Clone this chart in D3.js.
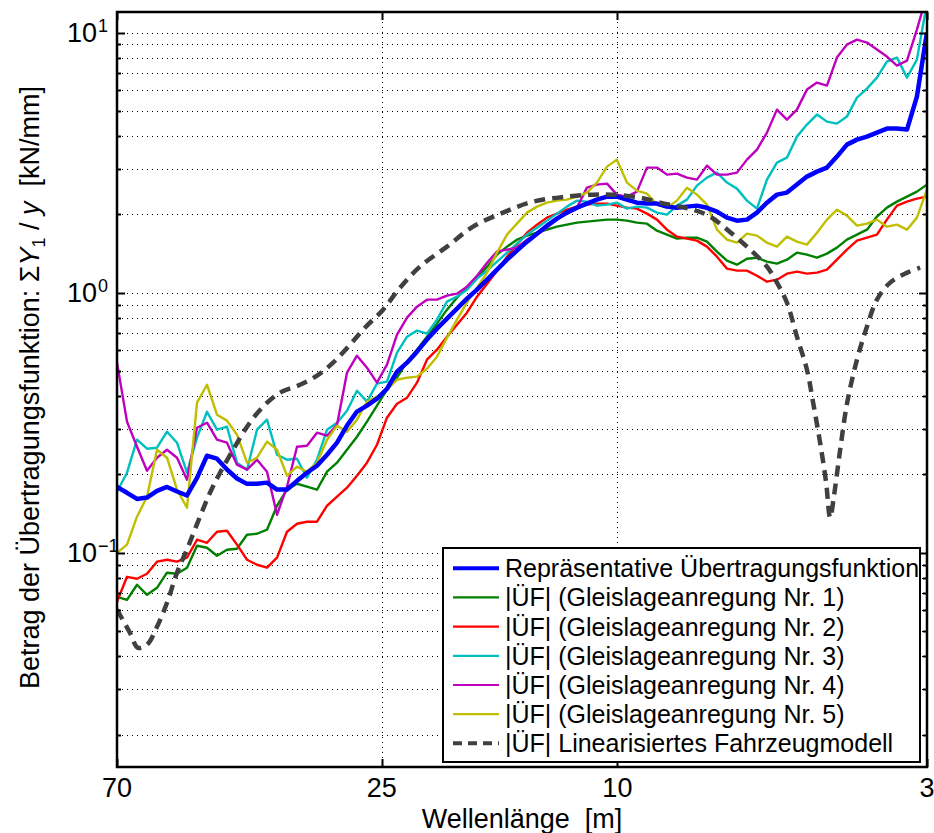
<!DOCTYPE html>
<html><head><meta charset="utf-8">
<script src="https://cdn.jsdelivr.net/npm/d3@7"></script>
<style>
body{margin:0;background:#fff}
text{font-family:"Liberation Sans",Arial,Helvetica,sans-serif;fill:#000}
</style>
</head><body>
<svg id="chart" width="934" height="833"></svg>
<script>
// ---------- data ----------
const wavelength = [70, 67.33, 64.76, 62.29, 59.92, 57.63, 55.43, 53.32, 51.28, 49.33,
  47.45, 45.64, 43.90, 42.22, 40.61, 39.06, 37.57, 36.14, 34.76, 33.44,
  32.16, 30.93, 29.75, 28.62, 27.53, 26.48, 25.47, 24.50, 23.56, 22.66,
  21.80, 20.97, 20.17, 19.40, 18.66, 17.95, 17.26, 16.60, 15.97, 15.36,
  14.78, 14.21, 13.67, 13.15, 12.65, 12.17, 11.70, 11.26, 10.83, 10.41,
  10.02, 9.635, 9.268, 8.914, 8.574, 8.247, 7.933, 7.630, 7.339, 7.059,
  6.790, 6.531, 6.282, 6.042, 5.812, 5.590, 5.377, 5.172, 4.975, 4.785,
  4.602, 4.427, 4.258, 4.096, 3.939, 3.789, 3.645, 3.506, 3.372, 3.243,
  3.120, 3.001];

const representative = [0.179, 0.170, 0.161, 0.163, 0.173, 0.179, 0.172, 0.166, 0.194, 0.236,
  0.230, 0.209, 0.193, 0.184, 0.184, 0.186, 0.175, 0.175, 0.189, 0.203,
  0.216, 0.238, 0.265, 0.308, 0.349, 0.368, 0.391, 0.427, 0.497, 0.538,
  0.593, 0.660, 0.727, 0.794, 0.868, 0.948, 1.027, 1.122, 1.226, 1.339,
  1.450, 1.571, 1.686, 1.810, 1.925, 2.031, 2.123, 2.199, 2.279, 2.340,
  2.340, 2.280, 2.219, 2.200, 2.200, 2.142, 2.120, 2.142, 2.161, 2.120,
  2.049, 1.943, 1.892, 1.909, 2.031, 2.219, 2.382, 2.425, 2.603, 2.794,
  2.920, 3.026, 3.336, 3.709, 3.877, 3.981, 4.125, 4.274, 4.274, 4.236,
  5.673, 10.0];

const gleis1 = [0.0677, 0.0659, 0.0753, 0.0689, 0.0733, 0.0838, 0.0830, 0.0876, 0.1064, 0.1045,
  0.0974, 0.1027, 0.1036, 0.1173, 0.1183, 0.1226, 0.1516, 0.1747, 0.1842, 0.1794,
  0.1747, 0.2049, 0.2220, 0.2489, 0.2793, 0.3191, 0.3675, 0.4235, 0.4710, 0.5427,
  0.6036, 0.6773, 0.7600, 0.8603, 0.9567, 1.045, 1.142, 1.259, 1.400, 1.503,
  1.599, 1.657, 1.701, 1.747, 1.794, 1.826, 1.859, 1.876, 1.892, 1.909,
  1.909, 1.892, 1.859, 1.842, 1.731, 1.672, 1.613, 1.627, 1.627, 1.571,
  1.438, 1.328, 1.281, 1.351, 1.363, 1.316, 1.293, 1.339, 1.425, 1.400,
  1.363, 1.413, 1.490, 1.599, 1.672, 1.747, 1.961, 2.123, 2.239, 2.340,
  2.446, 2.603];

const gleis2 = [0.0648, 0.0808, 0.0794, 0.0830, 0.0924, 0.0940, 0.0924, 0.0957, 0.1122, 0.1092,
  0.1204, 0.1215, 0.1074, 0.0940, 0.0899, 0.0876, 0.0957, 0.1204, 0.1293, 0.1316,
  0.1316, 0.1516, 0.1642, 0.1778, 0.1978, 0.2220, 0.2602, 0.3305, 0.3741, 0.3946,
  0.4506, 0.5525, 0.6036, 0.6773, 0.7533, 0.8376, 0.9652, 1.083, 1.215, 1.375,
  1.530, 1.701, 1.826, 1.943, 2.013, 2.085, 2.142, 2.181, 2.199, 2.199,
  2.161, 2.123, 2.104, 2.013, 1.909, 1.747, 1.642, 1.613, 1.585, 1.503,
  1.375, 1.237, 1.215, 1.215, 1.162, 1.102, 1.122, 1.183, 1.204, 1.183,
  1.194, 1.226, 1.339, 1.464, 1.585, 1.627, 1.672, 1.909, 2.161, 2.239,
  2.299, 2.340];

const gleis3 = [0.1716, 0.2031, 0.2720, 0.2512, 0.2534, 0.2920, 0.2649, 0.2031, 0.2769, 0.3485,
  0.2972, 0.3052, 0.2220, 0.2086, 0.2972, 0.3248, 0.2381, 0.2279, 0.2298, 0.1943,
  0.2279, 0.2972, 0.3162, 0.3517, 0.4198, 0.3809, 0.4467, 0.4547, 0.5878, 0.6773,
  0.7144, 0.6957, 0.7873, 0.9235, 0.9652, 1.027, 1.132, 1.215, 1.316, 1.425,
  1.543, 1.672, 1.778, 1.892, 2.013, 2.142, 2.259, 2.239, 2.161, 2.181,
  2.219, 2.104, 2.142, 2.123, 2.031, 1.995, 2.161, 2.279, 2.580, 2.769,
  2.894, 2.650, 2.512, 2.259, 2.104, 2.721, 3.162, 3.305, 3.981, 4.428,
  4.838, 4.547, 4.467, 4.753, 5.623, 6.091, 6.714, 7.735, 8.014, 6.714,
  7.876, 13.0];

const gleis4 = [0.5379, 0.3191, 0.2557, 0.2067, 0.2319, 0.2489, 0.2319, 0.1909, 0.3025, 0.3162,
  0.2720, 0.2649, 0.2181, 0.2086, 0.2279, 0.2049, 0.1400, 0.1794, 0.2557, 0.2579,
  0.2894, 0.2818, 0.3106, 0.4923, 0.5725, 0.5146, 0.4506, 0.5285, 0.6895, 0.8014,
  0.8834, 0.9399, 0.9399, 0.9738, 0.9912, 1.055, 1.162, 1.304, 1.438, 1.464,
  1.490, 1.599, 1.672, 1.778, 1.909, 2.031, 2.123, 2.534, 2.603, 2.625,
  2.382, 2.340, 2.446, 3.026, 3.026, 2.844, 2.869, 2.769, 2.721, 3.080,
  2.844, 2.844, 2.894, 3.247, 3.548, 4.125, 5.056, 4.627, 5.056, 6.037,
  6.423, 6.254, 8.014, 8.991, 9.399, 9.152, 8.603, 8.086, 7.467, 7.805,
  10.27, 14.0];

const gleis5 = [0.1000, 0.1074, 0.1376, 0.1642, 0.2489, 0.2319, 0.1747, 0.1489, 0.3776, 0.4425,
  0.3395, 0.3220, 0.2843, 0.2220, 0.2319, 0.2673, 0.2489, 0.1978, 0.2142, 0.2049,
  0.2220, 0.2720, 0.3080, 0.2920, 0.3248, 0.3809, 0.3981, 0.4235, 0.4627, 0.4710,
  0.4753, 0.5101, 0.5675, 0.6713, 0.7873, 0.9153, 1.045, 1.194, 1.425, 1.672,
  1.842, 2.031, 2.142, 2.219, 2.259, 2.279, 2.340, 2.425, 2.650, 3.052,
  3.247, 2.650, 2.468, 2.403, 2.181, 2.123, 2.259, 2.534, 2.382, 2.181,
  1.747, 1.599, 1.557, 1.686, 1.657, 1.557, 1.503, 1.642, 1.571, 1.530,
  1.701, 1.909, 2.085, 1.978, 1.810, 1.842, 1.909, 1.794, 1.826, 1.747,
  1.943, 2.490];

const modelWavelength = [70, 66.55, 64.51, 62.29, 59.92, 57.63, 55.43, 53.10, 50.69, 48.76,
  46.89, 44.56, 42.22, 39.68, 37.14, 34.36, 32.16, 30.21, 28.29, 26.69,
  24.87, 23.29, 21.55, 19.40, 17.53, 15.60, 13.88, 12.17, 10.99, 10.17,
  9.157, 8.471, 7.448, 6.973, 6.377, 5.967, 5.590, 5.377, 5.172, 4.975,
  4.785, 4.671, 4.546, 4.441, 4.372, 4.305, 4.205, 4.092, 3.939, 3.789,
  3.645, 3.462, 3.240, 3.081];
const modelValues = [0.0604, 0.0492, 0.0431, 0.0443, 0.0519, 0.0642, 0.0838, 0.1055, 0.1376, 0.1701,
  0.2031, 0.2489, 0.3052, 0.3642, 0.4124, 0.4425, 0.4796, 0.5379, 0.6310, 0.7333,
  0.8603, 1.045, 1.259, 1.503, 1.794, 2.031, 2.239, 2.340, 2.382, 2.382,
  2.319, 2.219, 2.085, 1.961, 1.672, 1.464, 1.259, 1.093, 0.9153, 0.6773,
  0.5057, 0.3776, 0.2649, 0.1859, 0.1364, 0.1671, 0.2489, 0.3776, 0.5525, 0.7400,
  0.9399, 1.093, 1.194, 1.248];

const xTickValues = [70, 25, 10, 3];
const xTickLabels = ["70", "25", "10", "3"];
const yMajorTicks = [0.1, 1, 10];
const yTickExponents = ["\u22121", "0", "1"];
const legendLabels = [
  "Repr\u00e4sentative \u00dcbertragungsfunktion",
  "|\u00dcF| (Gleislageanregung Nr. 1)",
  "|\u00dcF| (Gleislageanregung Nr. 2)",
  "|\u00dcF| (Gleislageanregung Nr. 3)",
  "|\u00dcF| (Gleislageanregung Nr. 4)",
  "|\u00dcF| (Gleislageanregung Nr. 5)",
  "|\u00dcF| Linearisiertes Fahrzeugmodell"
];

// ---------- styles ----------
const seriesStyles = [
  {color: "#0000ff", width: 4.5, dash: null},
  {color: "#008000", width: 2.4, dash: null},
  {color: "#ff0000", width: 2.4, dash: null},
  {color: "#00bfbf", width: 2.4, dash: null},
  {color: "#bf00bf", width: 2.4, dash: null},
  {color: "#bfbf00", width: 2.4, dash: null},
  {color: "#404040", width: 4.5, dash: "11,7"}
];

const margin = {left: 117, right: 927, top: 12, bottom: 767};
const AXFONT = 27;
const LEGFONT = 25;

const svg = d3.select("#chart");
const x = d3.scaleLog().domain([70, 3]).range([margin.left, margin.right]);
const y = d3.scaleLog().domain([0.015, 12]).range([margin.bottom, margin.top]);

// gridlines
const yGridValues = [];
[0.01, 0.1, 1, 10].forEach(d => { for (let k = 1; k <= 9; k++) { const v = +(k * d).toPrecision(3); if (v >= 0.015 && v <= 12) yGridValues.push(v); } });

const grid = svg.append("g").attr("stroke", "#000").attr("stroke-width", 1).attr("stroke-dasharray", "1,4");
grid.selectAll("line.h").data(yGridValues).join("line")
  .attr("x1", margin.left).attr("x2", margin.right)
  .attr("y1", d => Math.round(y(d)) + 0.5).attr("y2", d => Math.round(y(d)) + 0.5);
grid.selectAll("line.v").data([25, 10]).join("line")
  .attr("y1", margin.top).attr("y2", margin.bottom)
  .attr("x1", d => Math.round(x(d)) + 0.5).attr("x2", d => Math.round(x(d)) + 0.5);

// clip
svg.append("clipPath").attr("id", "clip").append("rect")
  .attr("x", margin.left).attr("y", margin.top)
  .attr("width", margin.right - margin.left).attr("height", margin.bottom - margin.top);

const line = d3.line().x(d => x(d[0])).y(d => y(d[1]));
const plot = svg.append("g").attr("clip-path", "url(#clip)").attr("fill", "none")
  .attr("stroke-linejoin", "round").attr("stroke-linecap", "butt");

const measured = [gleis1, gleis2, gleis3, gleis4, gleis5];
measured.forEach((vals, i) => {
  plot.append("path").datum(wavelength.map((w, j) => [w, vals[j]]))
    .attr("d", line).attr("stroke", seriesStyles[i + 1].color).attr("stroke-width", seriesStyles[i + 1].width);
});
plot.append("path").datum(wavelength.map((w, j) => [w, representative[j]]))
  .attr("d", line).attr("stroke", seriesStyles[0].color).attr("stroke-width", seriesStyles[0].width);
plot.append("path").datum(modelWavelength.map((w, j) => [w, modelValues[j]]))
  .attr("d", d3.line().x(d => x(d[0])).y(d => y(d[1])).curve(d3.curveCatmullRom.alpha(0.5)))
  .attr("stroke", seriesStyles[6].color).attr("stroke-width", seriesStyles[6].width)
  .attr("stroke-dasharray", seriesStyles[6].dash);

// axes box and ticks
const axes = svg.append("g").attr("stroke", "#000");
axes.append("rect").attr("x", margin.left).attr("y", margin.top)
  .attr("width", margin.right - margin.left).attr("height", margin.bottom - margin.top)
  .attr("fill", "none").attr("stroke-width", 2.5);
const yMinor = yGridValues.filter(v => !yMajorTicks.includes(v));
[[yMajorTicks, 8], [yMinor, 4]].forEach(([vals, len]) => {
  vals.forEach(v => {
    const yy = Math.round(y(v)) + 0.5;
    axes.append("line").attr("x1", margin.left).attr("x2", margin.left + len).attr("y1", yy).attr("y2", yy).attr("stroke-width", 2);
    axes.append("line").attr("x1", margin.right).attr("x2", margin.right - len).attr("y1", yy).attr("y2", yy).attr("stroke-width", 2);
  });
});
xTickValues.forEach(v => {
  const xx = Math.round(x(v)) + 0.5;
  axes.append("line").attr("x1", xx).attr("x2", xx).attr("y1", margin.bottom).attr("y2", margin.bottom - 8).attr("stroke-width", 2);
  axes.append("line").attr("x1", xx).attr("x2", xx).attr("y1", margin.top).attr("y2", margin.top + 8).attr("stroke-width", 2);
});

// tick labels
xTickValues.forEach((v, i) => {
  svg.append("text").attr("x", x(v)).attr("y", 797).attr("text-anchor", "middle")
    .attr("font-size", AXFONT).text(xTickLabels[i]);
});
yMajorTicks.forEach((v, i) => {
  svg.append("text").attr("x", 97).attr("y", y(v) + 9).attr("text-anchor", "end")
    .attr("font-size", AXFONT).text("10");
  svg.append("text").attr("x", 98).attr("y", y(v) - 1).attr("text-anchor", "start")
    .attr("font-size", 18).text(yTickExponents[i]);
});

// axis titles
svg.append("text").attr("x", (margin.left + margin.right) / 2).attr("y", 828)
  .attr("text-anchor", "middle").attr("font-size", AXFONT).style("white-space", "pre")
  .text("Wellenl\u00e4nge  [m]");

const yl = svg.append("text").attr("transform", `translate(39,${(margin.top + margin.bottom) / 2 - 2}) rotate(-90)`)
  .attr("text-anchor", "middle").attr("font-size", AXFONT).style("white-space", "pre");
yl.append("tspan").text("Betrag der \u00dcbertragungsfunktion: \u03a3");
yl.append("tspan").attr("font-style", "italic").text("Y");
yl.append("tspan").attr("dy", 6).attr("font-size", 18).text("1");
yl.append("tspan").attr("dy", -6).text(" / ");
yl.append("tspan").attr("font-style", "italic").text("y");
yl.append("tspan").text("  [kN/mm]");

// legend
const lg = svg.append("g");
lg.append("rect").attr("x", 443).attr("y", 548).attr("width", 477).attr("height", 214)
  .attr("fill", "#fff").attr("stroke", "#000").attr("stroke-width", 2);
legendLabels.forEach((lab, i) => {
  const cy = 568.3 + i * 29.17;
  const s = seriesStyles[i];
  lg.append("line").attr("x1", 453).attr("x2", 499).attr("y1", cy).attr("y2", cy)
    .attr("stroke", s.color).attr("stroke-width", i === 0 ? 4 : (i === 6 ? 4 : 2.2))
    .attr("stroke-dasharray", s.dash ? "9,6" : null);
  lg.append("text").attr("x", 505).attr("y", cy + 9).attr("font-size", LEGFONT).text(lab);
});
</script>
</body></html>
